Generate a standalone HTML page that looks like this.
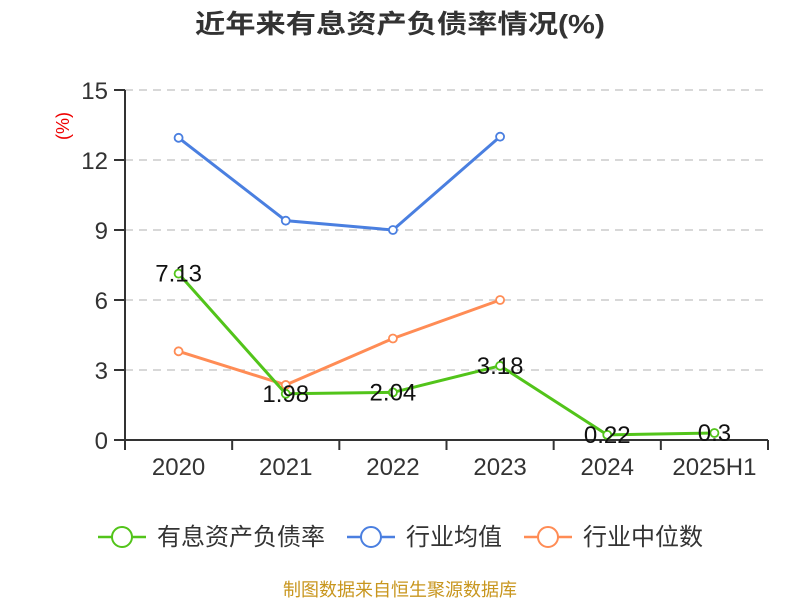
<!DOCTYPE html>
<html><head><meta charset="utf-8"><style>
body{margin:0;background:#fff;}
svg{display:block;font-family:"Liberation Sans","Noto Sans CJK SC",sans-serif;}
</style></head><body>
<svg id="chart" width="800" height="600" viewBox="0 0 800 600" xmlns="http://www.w3.org/2000/svg">
<text x="195" y="33" textLength="410" lengthAdjust="spacingAndGlyphs" font-size="26" font-weight="bold" fill="#333">近年来有息资产负债率情况(%)</text>
<text transform="translate(69,126) rotate(-90)" text-anchor="middle" font-size="18" fill="#e00">(%)</text>
<g id="grid"></g><g id="axes"></g><g id="series"></g>
<g font-size="24" fill="#333">
 <g><line x1="98" y1="537" x2="146" y2="537" stroke="#52c41a" stroke-width="2.5"/><circle cx="122" cy="537" r="10" fill="#fff" stroke="#52c41a" stroke-width="2"/><text x="157" y="545" textLength="168" lengthAdjust="spacingAndGlyphs">有息资产负债率</text></g>
 <g><line x1="347" y1="537" x2="395" y2="537" stroke="#4a7fe0" stroke-width="2.5"/><circle cx="371" cy="537" r="10" fill="#fff" stroke="#4a7fe0" stroke-width="2"/><text x="406" y="545" textLength="96" lengthAdjust="spacingAndGlyphs">行业均值</text></g>
 <g><line x1="524" y1="537" x2="572" y2="537" stroke="#ff8c55" stroke-width="2.5"/><circle cx="548" cy="537" r="10" fill="#fff" stroke="#ff8c55" stroke-width="2"/><text x="583" y="545" textLength="120" lengthAdjust="spacingAndGlyphs">行业中位数</text></g>
</g>
<text x="400" y="596" text-anchor="middle" font-size="18" fill="#c8961e">制图数据来自恒生聚源数据库</text>
</svg>
<script>
const categories=["2020","2021","2022","2023","2024","2025H1"];
const debtRatio=[7.13,1.98,2.04,3.18,0.22,0.3];
const industryAvg=[12.95,9.4,9.0,13.0];
const industryMedian=[3.8,2.36,4.35,6.0];
const yTicks=[0,3,6,9,12,15];
const NS="http://www.w3.org/2000/svg";
const L=125,R=768,T=90,B=440,yMax=15;
const bw=(R-L)/categories.length;
const x=i=>L+bw*(i+0.5);
const y=v=>B-(v/yMax)*(B-T);
function mk(tag,attrs,parent){const e=document.createElementNS(NS,tag);for(const k in attrs)e.setAttribute(k,attrs[k]);parent.appendChild(e);return e;}
const grid=document.getElementById('grid'),axes=document.getElementById('axes'),ser=document.getElementById('series');
yTicks.forEach(t=>{
 if(t>0){const g=mk('line',{x1:L,x2:R,y1:y(t),y2:y(t),stroke:'#ccc','stroke-dasharray':'8,6','stroke-width':1.5},grid);
 
 }
 const tk=mk('line',{x1:L-11,x2:L,y1:y(t),y2:y(t),stroke:'#333','stroke-width':2},axes);
 
 
 const lb=mk('text',{x:L-17,y:y(t)+9,'text-anchor':'end','font-size':24,fill:'#333'},axes);
 lb.textContent=t;
 
 
});
const ya=mk('line',{x1:L,x2:L,y1:T,y2:B,stroke:'#333','stroke-width':2},axes);


const xa=mk('line',{x1:L,x2:R,y1:B,y2:B,stroke:'#333','stroke-width':2},axes);


for(let i=0;i<=categories.length;i++){
 const tk=mk('line',{x1:L+bw*i,x2:L+bw*i,y1:B,y2:B+10,stroke:'#333','stroke-width':2},axes);
 
 
}
categories.forEach((c,i)=>{
 const lb=mk('text',{x:x(i),y:B+35,'text-anchor':'middle','font-size':24,fill:'#333'},axes);
 lb.textContent=c;
 
 
});
function series(vals,color,name,labels){
 const g=mk('g',{},ser);
 
 
 const p=mk('polyline',{points:vals.map((v,i)=>x(i)+','+y(v)).join(' '),fill:'none',stroke:color,'stroke-width':3},g);
 
 
 vals.forEach((v,i)=>{
  const c=mk('circle',{cx:x(i),cy:y(v),r:4,fill:'#fff',stroke:color,'stroke-width':1.8},g);
  
  
  if(labels){
   const t=mk('text',{x:x(i),y:y(v)+8,'text-anchor':'middle','font-size':24,fill:'#111'},g);
   t.textContent=v;
   
   
  }
 });
}
series(industryAvg,'#4a7fe0','industry-avg-series',false);
series(industryMedian,'#ff8c55','industry-median-series',false);
series(debtRatio,'#52c41a','debt-ratio-series',true);
</script>
</body></html>
